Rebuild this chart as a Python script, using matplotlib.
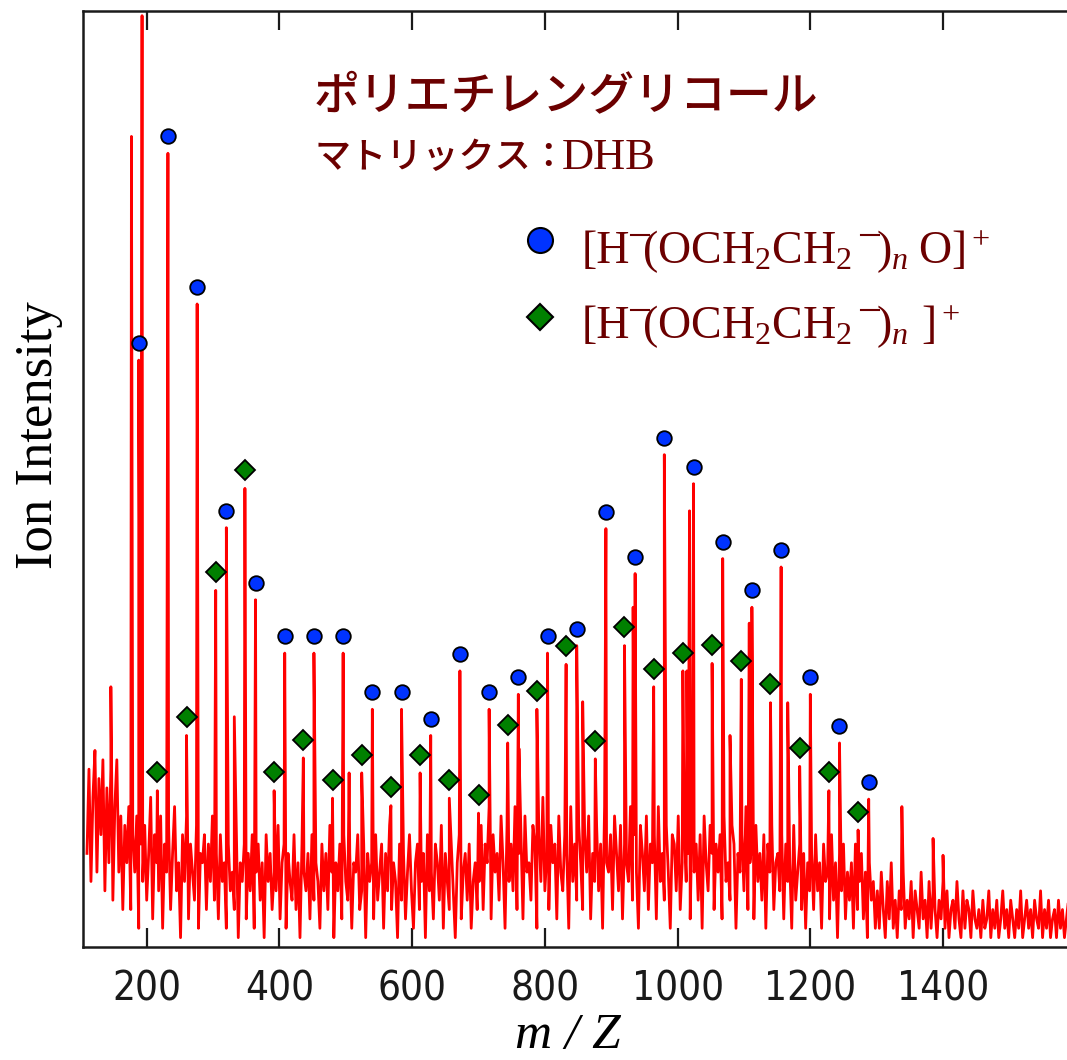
import numpy as np
import matplotlib
matplotlib.use("Agg")
from matplotlib import pyplot as plt
from matplotlib.lines import Line2D
from matplotlib.transforms import IdentityTransform

# baseline noise, one value every MZ_STEP starting at MZ_START
MZ_START, MZ_STEP = 110, 3
noise = [
    # 110 - 167
    10, 19, 7, 16, 21, 8, 18, 12, 20, 6, 17, 9, 19, 5, 15, 20, 8, 14, 4, 13,
    # 170 - 299
    9, 15, 4, 12, 8, 14, 2, 11, 7, 13, 5, 10, 16, 3, 12, 9, 6, 14, 2, 11,
    8, 13, 4, 10, 15, 6, 9, 1, 12, 7, 14, 3, 11, 8, 5, 13, 2, 10, 9, 12,
    4, 11, 7, 14,
    # 302 - 698
    5, 10, 3, 12, 7, 9, 2, 11, 6, 8, 4, 13, 1, 9, 7, 11, 3, 10, 6, 12,
    2, 8, 11, 5, 9, 1, 12, 7, 10, 4, 8, 6, 13, 3, 9, 11, 2, 10, 7, 5,
    12, 4, 9, 1, 11, 8, 6, 10, 3, 12, 5, 9, 7, 2, 11, 6, 10, 4, 13, 8,
    1, 9, 6, 11, 3, 12, 7, 5, 10, 2, 9, 8, 12, 4, 6, 11, 1, 10, 7, 9,
    3, 12, 5, 8, 11, 2, 10, 6, 13, 4, 9, 7, 1, 11, 5, 10, 3, 8, 12, 6,
    2, 9, 11, 4, 7, 10, 1, 12, 6, 8, 3, 11, 9, 5, 13, 2, 10, 7, 4, 11,
    6, 1, 9, 12, 3, 8, 10, 5, 11, 2, 7, 9, 4,
    # 701 - 1199
    7, 13, 4, 11, 9, 15, 3, 12, 8, 10, 5, 14, 9, 2, 13, 7, 11, 6, 15, 4,
    10, 12, 3, 14, 8, 9, 5, 13, 11, 2, 12, 7, 16, 6, 10, 4, 13, 9, 11, 3,
    14, 8, 6, 12, 10, 2, 15, 7, 11, 5, 13, 9, 4, 12, 8, 14, 3, 10, 7, 13,
    6, 11, 2, 15, 9, 8, 12, 4, 14, 10, 6, 13, 3, 11, 9, 7, 15, 5, 12, 8,
    2, 13, 10, 6, 14, 4, 11, 9, 12, 3, 15, 7, 10, 5, 13, 8, 2, 12, 11, 6,
    14, 4, 9, 13, 7, 10, 3, 15, 8, 11, 5, 12, 2, 14, 9, 6, 13, 10, 4, 11,
    8, 12, 3, 14, 7, 9, 5, 13, 11, 2, 10, 8, 12, 6, 15, 4, 9, 11, 3, 13,
    7, 10, 5, 12, 2, 11, 8, 13, 4, 9, 10, 6, 12, 3, 11, 7, 9, 2, 13, 5,
    8, 11, 4, 10, 2, 9, 6,
    # 1202 - 1298
    10, 4, 12, 6, 9, 2, 11, 7, 8, 3, 12, 5, 9, 1, 10, 6, 11, 3, 8, 5,
    9, 2, 11, 4, 7, 10, 3, 8, 1, 9, 5, 7, 2,
    # 1301 - 1451
    6, 2, 8, 4, 1, 7, 3, 9, 2, 5, 1, 6, 4, 8, 2, 5, 3, 7, 1, 6,
    4, 2, 8, 3, 5, 1, 7, 2, 6, 4, 1, 5, 3, 7, 2, 6, 1, 4, 5, 2,
    7, 3, 1, 6, 2, 5, 4, 1, 6, 3, 2,
    # 1454 - 1589
    4, 1, 5, 2, 3, 6, 1, 4, 2, 5, 1, 3, 6, 2, 4, 1, 5, 3, 1, 4,
    2, 6, 1, 3, 5, 2, 4, 1, 5, 3, 2, 6, 1, 4, 2, 5, 1, 3, 4, 1,
    5, 2, 4, 1, 3, 5,
]

# [H(OCH2CH2)nO]+ series
circle_mz = [188, 232, 276, 320, 364, 408, 452, 496, 540, 584, 628, 672, 716,
             760, 804, 848, 892, 936, 980, 1024, 1068, 1112, 1156, 1200, 1244, 1288]
circle_int = [62.7, 84.8, 68.7, 44.8, 37.1, 31.4, 31.4, 31.4, 25.4, 25.4, 22.6, 29.5, 25.4,
              27.0, 31.4, 32.2, 44.7, 39.9, 52.6, 49.5, 41.5, 36.3, 40.6, 27.0, 21.8, 15.8]

# [H(OCH2CH2)n]+ series
diamond_mz = [216, 260, 304, 348, 392, 436, 480, 524, 568, 612, 656, 700, 744,
              788, 832, 876, 920, 964, 1008, 1052, 1096, 1140, 1184, 1228, 1272]
diamond_int = [16.7, 22.6, 38.1, 49.0, 16.7, 20.2, 15.9, 18.6, 15.1, 18.6, 15.9, 14.3, 21.8,
               25.4, 30.2, 20.1, 32.2, 27.8, 29.5, 30.3, 28.6, 26.1, 19.3, 16.7, 12.5]

# unassigned peaks
other_mz = [146, 177, 193, 332, 505, 627, 761, 857, 933, 1014, 1018, 1079, 1108,
            1166, 1338, 1385, 1400]
other_int = [27.8, 86.6, 99.5, 24.6, 18.6, 12.6, 21.2, 26.2, 36.3, 29.5, 46.6, 22.6, 34.6,
             26.1, 15.0, 11.6, 9.8]

DARK_RED = '#6b0000'
SERIF = ['Liberation Serif', 'DejaVu Serif']
JP = ['Noto Sans CJK JP', 'DejaVu Sans']
W, H = 1067, 1060

plt.rcParams['mathtext.fontset'] = 'custom'
plt.rcParams['mathtext.rm'] = 'Liberation Serif'
plt.rcParams['mathtext.it'] = 'Liberation Serif:italic'


def build_spectrum():
    grid = MZ_START + MZ_STEP * np.arange(len(noise))
    mz = np.concatenate([grid, circle_mz, diamond_mz, other_mz]).astype(float)
    inten = np.concatenate([noise, circle_int, diamond_int, other_int]).astype(float)
    order = np.argsort(mz, kind='stable')
    return mz[order], inten[order]


def polymer_formula(fig, x, base, tail, tail_gap):
    """[H-(OCH2CH2-)n ...]+ written piece by piece, bracket bars drawn as lines."""
    renderer = fig.canvas.get_renderer()
    kw = dict(fontsize=33, family=SERIF, color=DARK_RED, va='baseline', ha='left')
    bar_y = H - base + 28

    def put(px, s):
        t = fig.text(px / W, 1 - base / H, s, **kw)
        return t.get_window_extent(renderer).x1

    def bar(x0, x1):
        fig.add_artist(Line2D([x0, x1], [bar_y, bar_y], color=DARK_RED, lw=1.5,
                              transform=IdentityTransform()))

    end = put(x, '[H')
    bar(end, end + 18)
    end = put(end + 12, r'(OCH$_2$CH$_2$')
    bar(end + 9, end + 27)
    end = put(end + 24, r')$_n$')
    put(end + tail_gap, tail)


def main():
    fig = plt.figure(figsize=(W / 100, H / 100), dpi=100)
    ax = fig.add_axes([83 / W, (H - 947) / H, (W - 83) / W, (947 - 11) / H])

    mz, inten = build_spectrum()
    ax.plot(mz, inten, color='#ff0000', lw=2.0, zorder=2)

    ax.plot(circle_mz, np.array(circle_int) + 1.8, 'o', ms=10.5, mfc='#0033ff',
            mec='black', mew=1.3, zorder=3)
    ax.plot(diamond_mz, np.array(diamond_int) + 1.95, 'D', ms=10.5, mfc='#008000',
            mec='black', mew=1.3, zorder=3)

    px = 0.6636  # pixels per m/z unit
    ax.set_xlim(200 - (146.7 - 83) / px, 200 + (W - 146.7) / px)
    ax.set_ylim(0, 100)
    ax.set_xticks(range(200, 1401, 200))
    ax.set_yticks([])
    ax.tick_params(axis='x', direction='in', length=14, width=1.6, top=True,
                   labelsize=29, pad=16, colors='#1a1a1a')
    for lab in ax.get_xticklabels():
        lab.set_family(['Liberation Sans Narrow', 'DejaVu Sans'])
        lab.set_fontstretch('condensed')
    ax.spines['right'].set_visible(False)
    for side in ('left', 'top', 'bottom'):
        ax.spines[side].set_linewidth(1.8)
        ax.spines[side].set_color('#1a1a1a')

    # axis titles
    fig.text(39 / W, 1 - 435 / H, 'Ion Intensity', rotation=90, ha='center',
             va='center', fontsize=38, family=SERIF)
    fig.text(568 / W, 12 / H, 'm / Z', ha='center', va='baseline', fontsize=37,
             family=SERIF, style='italic')

    # heading
    def axpt(x, y):
        return (x - 83) / (W - 83), (947 - y) / (947 - 11)

    ax.text(*axpt(314, 110), 'ポリエチレングリコール', ha='left', va='baseline',
            fontsize=33, family=JP, weight='medium', color=DARK_RED, transform=ax.transAxes)
    ax.text(*axpt(314, 168), 'マトリックス：', ha='left', va='baseline',
            fontsize=26, family=JP, weight='medium', color=DARK_RED, transform=ax.transAxes)
    ax.text(*axpt(562, 169), 'DHB', ha='left', va='baseline',
            fontsize=32, family=SERIF, color=DARK_RED, transform=ax.transAxes)

    # key
    ax.plot(*axpt(540, 240), 'o', ms=18, mfc='#0033ff', mec='black', mew=1.5,
            transform=ax.transAxes, clip_on=False)
    ax.plot(*axpt(540, 317), 'D', ms=13.5, mfc='#008000', mec='black', mew=1.5,
            transform=ax.transAxes, clip_on=False)
    polymer_formula(fig, 582, 263, r'O]$^+$', 9)
    polymer_formula(fig, 582, 338, r']$^+$', 12)

    fig.savefig('out.png', dpi=100)


if __name__ == '__main__':
    main()
